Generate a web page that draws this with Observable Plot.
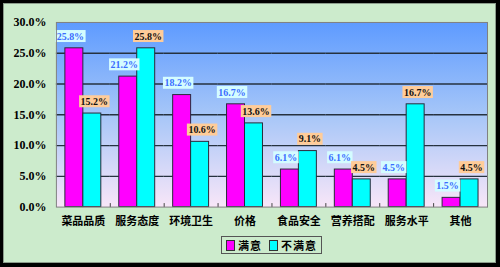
<!DOCTYPE html>
<html>
<head>
<meta charset="utf-8">
<script src="https://cdn.jsdelivr.net/npm/d3@7"></script>
<script src="https://cdn.jsdelivr.net/npm/@observablehq/plot@0.6"></script>
<style>
  html, body { margin: 0; padding: 0; background: #fff; }
  #outer { position: relative; width: 500px; height: 267px; box-sizing: border-box; border: 3px solid #000; border-right-width: 4px; border-bottom-width: 4px; }
  #inner { position: absolute; left: 0; top: 0; right: 0; bottom: 0; border: 1px solid #8c9c8c; background: #CCEBCC; }
  #chart { position: absolute; left: 0; top: 0; }
  #legend { position: absolute; left: 217px; top: 232px; height: 16px; border: 1px solid #555; background: #CCEBCC;
            display: flex; align-items: center; padding: 0 4px 0 4px; gap: 0;
            font: bold 11px "Noto Sans CJK SC", sans-serif; color: #000; }
  #legend .sw { width: 7px; height: 9px; border: 1px solid #333; margin-right: 3px; }
  #legend .item { display: flex; align-items: center; margin-right: 7px; letter-spacing: 1px; }
  #legend .item:last-child { margin-right: 0; }
</style>
</head>
<body>
<svg width="0" height="0" style="position:absolute">
  <defs>
    <linearGradient id="bg" x1="0" y1="0" x2="0" y2="1">
      <stop offset="0" stop-color="#5E9BFF"/>
      <stop offset="0.5" stop-color="#A6C6F8"/>
      <stop offset="1" stop-color="#F8E6F8"/>
    </linearGradient>
  </defs>
</svg>
<div id="outer"><div id="inner"><div id="chart"></div><div id="legend"></div></div></div>
<script>
const categories = ["菜品品质", "服务态度", "环境卫生", "价格", "食品安全", "营养搭配", "服务水平", "其他"];
const seriesNames = ["满意", "不满意"];
const satisfied = [25.8, 21.2, 18.2, 16.7, 6.1, 6.1, 4.5, 1.5];
const dissatisfied = [15.2, 25.8, 10.6, 13.6, 9.1, 4.5, 16.7, 4.5];
const yTicks = [0, 5, 10, 15, 20, 25, 30];
const seriesColors = ["#FF00FF", "#00FFFF"];

const rows = [];
categories.forEach((c, i) => {
  rows.push({cat: c, series: seriesNames[0], value: satisfied[i]});
  rows.push({cat: c, series: seriesNames[1], value: dissatisfied[i]});
});
const fmt = d => d.value.toFixed(1) + "%";
const serif = "'Liberation Serif', 'Times New Roman', serif";
const cjk = "'Noto Sans CJK SC', sans-serif";

const tickSymbol = { draw(ctx) { ctx.moveTo(0, 0); ctx.lineTo(0, -4); } };

const chart = Plot.plot({
  width: 492,
  height: 228,
  marginLeft: 51,
  marginTop: 18,
  marginRight: 8,
  marginBottom: 25,
  style: { background: "transparent", overflow: "visible" },
  fx: { domain: categories, padding: 0, label: null },
  x: { domain: seriesNames, paddingInner: 0, paddingOuter: 0.46, axis: null },
  y: { domain: [0, 30], label: null },
  color: { domain: seriesNames, range: seriesColors },
  marks: [
    Plot.frame({ facet: "super", fill: "url(#bg)", stroke: "none" }),
    Plot.ruleY(yTicks.filter(t => t > 0 && t < 30), { stroke: "#26323f", strokeWidth: 1.3 }),
    Plot.dot([0], { frameAnchor: "bottom-right", symbol: tickSymbol, fill: "none", stroke: "#444", strokeWidth: 1 }),
    Plot.barY(rows, { fx: "cat", x: "series", y: "value", fill: "series", stroke: "#2a2a3a", strokeWidth: 1 }),
    Plot.text(rows.filter(d => d.series === seriesNames[0]), { fx: "cat", x: "series", y: "value", text: fmt, dy: -12, dx: -4, fill: "#3a6cff",
      fontFamily: serif, fontWeight: "bold", fontSize: 10, ariaLabel: () => "sat-labels" }),
    Plot.text(rows.filter(d => d.series === seriesNames[1]), { fx: "cat", x: "series", y: "value", text: fmt, dy: -12, dx: 2, fill: "#111",
      fontFamily: serif, fontWeight: "bold", fontSize: 10, ariaLabel: () => "dis-labels" }),
    Plot.frame({ facet: "super", stroke: "#808080", fill: "none" }),
    Plot.axisY({ ticks: yTicks, tickFormat: d => d.toFixed(1) + "%", tickSize: 0, tickPadding: 10, label: null,
      fontFamily: serif, fontWeight: "bold", fontSize: 12, fill: "#000" }),
    Plot.axisFx({ anchor: "bottom", tickSize: 0, tickPadding: 10, label: null, fontFamily: cjk, fontWeight: "bold", fontSize: 11, fill: "#000" })
  ]
});
document.getElementById("chart").appendChild(chart);

// label background boxes
function boxes(label, color) {
  chart.querySelectorAll(`text[aria-label="${label}"]`).forEach(t => {
    const b = t.getBBox();
    const r = document.createElementNS("http://www.w3.org/2000/svg", "rect");
    r.setAttribute("x", b.x - 1.5);
    r.setAttribute("y", b.y - 0.5);
    r.setAttribute("width", b.width + 3);
    r.setAttribute("height", b.height + 1);
    r.setAttribute("fill", color);
    if (t.getAttribute("transform")) r.setAttribute("transform", t.getAttribute("transform"));
    t.parentNode.insertBefore(r, t);
  });
}
boxes("sat-labels", "#D4FCFF");
boxes("dis-labels", "#FFCC99");

// legend
const legend = document.getElementById("legend");
seriesNames.forEach((s, i) => {
  const item = document.createElement("div");
  item.className = "item";
  const sw = document.createElement("div");
  sw.className = "sw";
  sw.style.background = seriesColors[i];
  item.appendChild(sw);
  item.appendChild(document.createTextNode(s));
  legend.appendChild(item);
});
</script>
</body>
</html>
